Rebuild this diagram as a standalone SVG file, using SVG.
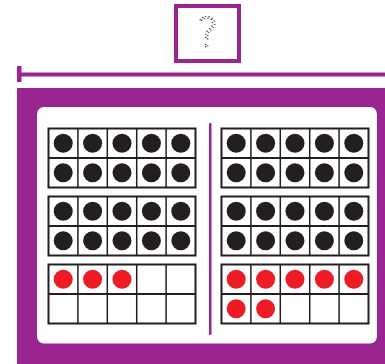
<svg xmlns="http://www.w3.org/2000/svg" width="385" height="364" viewBox="0 0 385 364">
<style>
.purple{fill:#9b2590}
.frame{fill:#fff;stroke:#231f20;stroke-width:2}
.grid{stroke:#231f20;stroke-width:1.5}
.mid{stroke:#231f20;stroke-width:2.2}
.k{fill:#231f20}
.r{fill:#ed1c24}
.q{font-family:"DejaVu Sans","Liberation Sans",sans-serif;font-weight:200;font-size:40px;fill:none;stroke:#222;stroke-width:1.4;stroke-dasharray:0 3.4;stroke-linecap:round}
</style>
<defs>
<g id="tf">
<rect class="frame" x="0" y="0" width="147" height="59"/>
<line class="grid" x1="29.4" y1="0" x2="29.4" y2="59"/>
<line class="grid" x1="58.8" y1="0" x2="58.8" y2="59"/>
<line class="grid" x1="88.2" y1="0" x2="88.2" y2="59"/>
<line class="grid" x1="117.6" y1="0" x2="117.6" y2="59"/>
<line class="mid" x1="0" y1="29.5" x2="147" y2="29.5"/>
</g>
<g id="row5k">
<circle class="k" cx="14.7" cy="14.75" r="9.5"/>
<circle class="k" cx="44.1" cy="14.75" r="9.5"/>
<circle class="k" cx="73.5" cy="14.75" r="9.5"/>
<circle class="k" cx="102.9" cy="14.75" r="9.5"/>
<circle class="k" cx="132.3" cy="14.75" r="9.5"/>
</g>
</defs>
<g id="question">
<rect x="176" y="6" width="63" height="55" fill="#fff" stroke="#9b2590" stroke-width="4"/>
<text class="q" x="207.5" y="47" text-anchor="middle">?</text>
</g>
<g id="connectors">
<rect class="purple" x="17" y="72.5" width="368" height="4"/>
<rect class="purple" x="17" y="66" width="4.5" height="16"/>
</g>
<g id="panel">
<rect class="purple" x="17" y="88" width="368" height="276"/>
<rect x="37" y="107" width="340" height="236.5" rx="7" fill="#fff"/>
<rect class="purple" x="209" y="123" width="2.5" height="212" rx="1"/>
</g>
<g id="left-frame-1" transform="translate(48.5,128.5)">
<use href="#tf"/><use href="#row5k"/><use href="#row5k" y="29.5"/>
</g>
<g id="left-frame-2" transform="translate(48.5,196.5)">
<use href="#tf"/><use href="#row5k"/><use href="#row5k" y="29.5"/>
</g>
<g id="left-frame-3" transform="translate(48.5,264.5)">
<use href="#tf"/>
<circle class="r" cx="14.7" cy="14.75" r="9.5"/>
<circle class="r" cx="44.1" cy="14.75" r="9.5"/>
<circle class="r" cx="73.5" cy="14.75" r="9.5"/>
</g>
<g id="right-frame-1" transform="translate(221.5,128.5)">
<use href="#tf"/><use href="#row5k"/><use href="#row5k" y="29.5"/>
</g>
<g id="right-frame-2" transform="translate(221.5,196.5)">
<use href="#tf"/><use href="#row5k"/><use href="#row5k" y="29.5"/>
</g>
<g id="right-frame-3" transform="translate(221.5,264.5)">
<use href="#tf"/>
<circle class="r" cx="14.7" cy="14.75" r="9.5"/>
<circle class="r" cx="44.1" cy="14.75" r="9.5"/>
<circle class="r" cx="73.5" cy="14.75" r="9.5"/>
<circle class="r" cx="102.9" cy="14.75" r="9.5"/>
<circle class="r" cx="132.3" cy="14.75" r="9.5"/>
<circle class="r" cx="14.7" cy="44.25" r="9.5"/>
<circle class="r" cx="44.1" cy="44.25" r="9.5"/>
</g>
</svg>
